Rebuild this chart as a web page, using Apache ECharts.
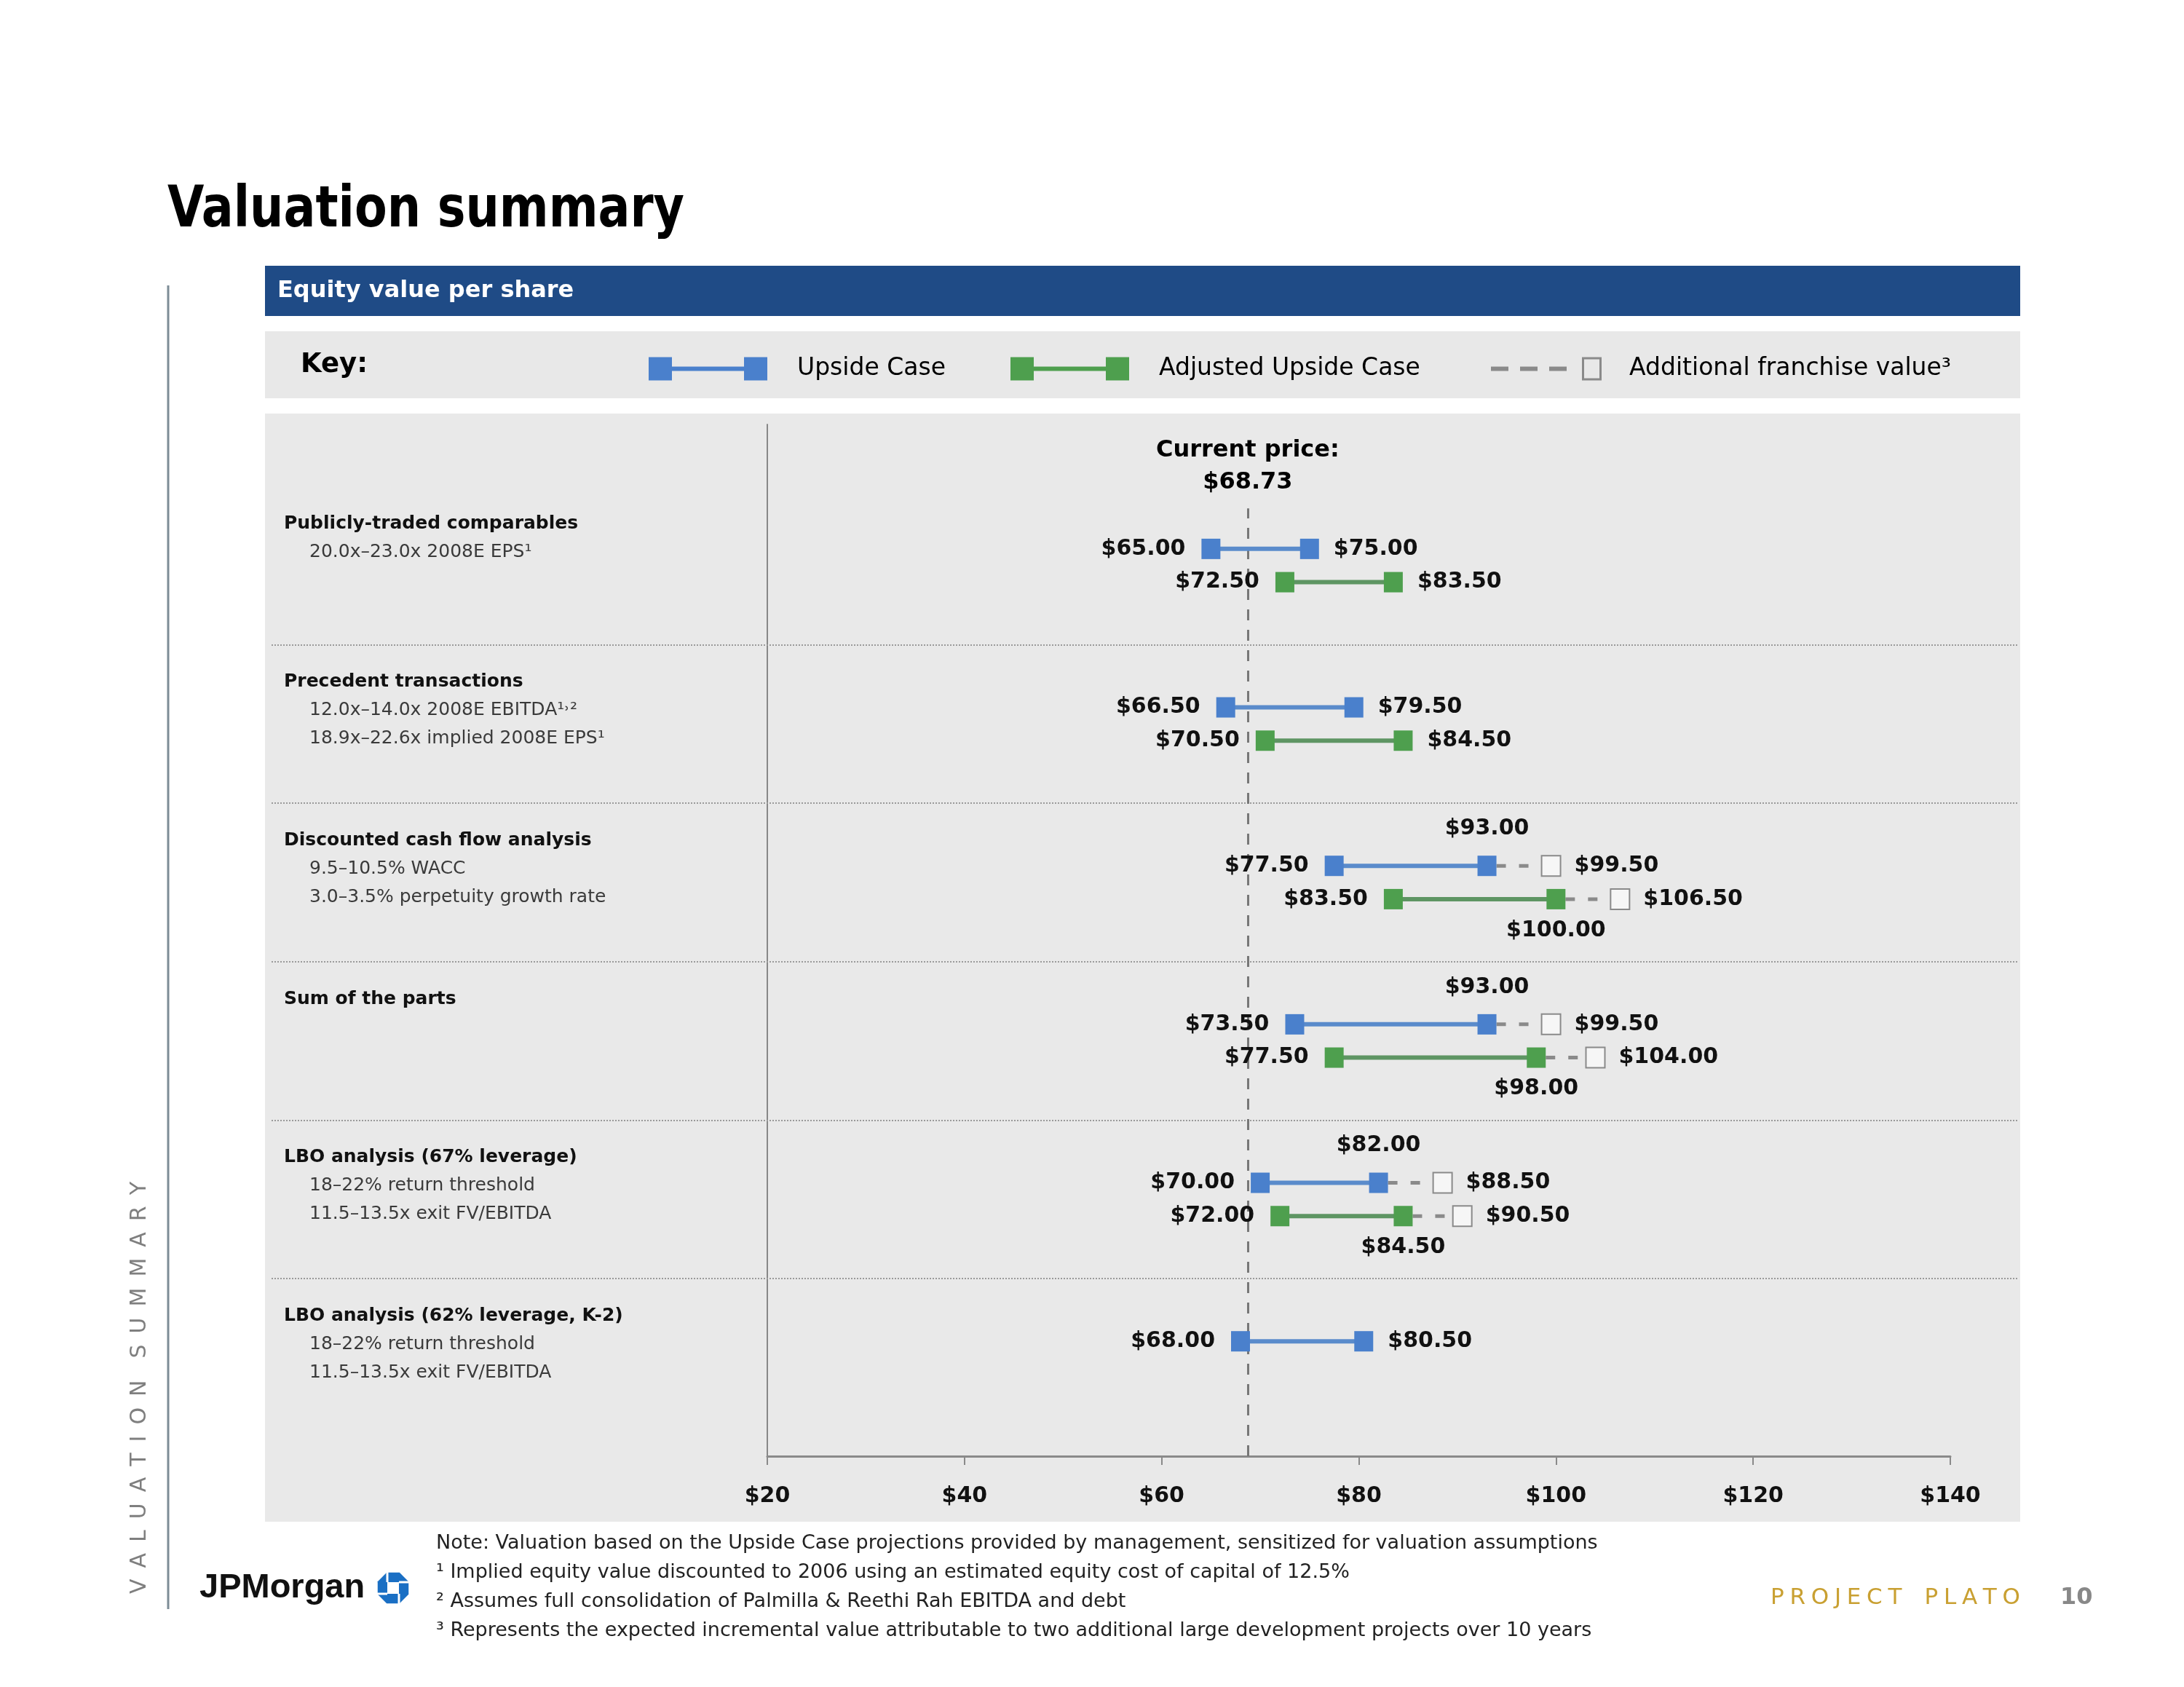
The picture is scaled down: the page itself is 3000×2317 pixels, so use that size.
<!DOCTYPE html>
<html>
<head>
<meta charset="utf-8">
<script src="https://cdn.jsdelivr.net/npm/echarts@6/dist/echarts.min.js"></script>
<style>
html,body{margin:0;padding:0;background:#fff;}
#chart{width:3000px;height:2317px;}
</style>
</head>
<body>
<div id="chart"></div>
<script>
// ---------------- DATA ----------------
const rowTitles = [
  'Publicly-traded comparables',
  'Precedent transactions',
  'Discounted cash flow analysis',
  'Sum of the parts',
  'LBO analysis (67% leverage)',
  'LBO analysis (62% leverage, K-2)'
];
const rowDetails = [
  ['20.0x\u201323.0x 2008E EPS\u00b9'],
  ['12.0x\u201314.0x 2008E EBITDA\u00b9\u02d2\u00b2', '18.9x\u201322.6x implied 2008E EPS\u00b9'],
  ['9.5\u201310.5% WACC', '3.0\u20133.5% perpetuity growth rate'],
  [],
  ['18\u201322% return threshold', '11.5\u201313.5x exit FV/EBITDA'],
  ['18\u201322% return threshold', '11.5\u201313.5x exit FV/EBITDA']
];
const upsideLow      = [65.00, 66.50, 77.50, 73.50, 70.00, 68.00];
const upsideHigh     = [75.00, 79.50, 93.00, 93.00, 82.00, 80.50];
const adjustedLow    = [72.50, 70.50, 83.50, 77.50, 72.00, null];
const adjustedHigh   = [83.50, 84.50, 100.00, 98.00, 84.50, null];
const franchiseUpside   = [null, null, 99.50, 99.50, 88.50, null];
const franchiseAdjusted = [null, null, 106.50, 104.00, 90.50, null];
const currentPrice = 68.73;
const tickValues = [20, 40, 60, 80, 100, 120, 140];
const seriesNames = ['Upside Case', 'Adjusted Upside Case', 'Additional franchise value\u00b3'];
const footNotes = [
  'Note: Valuation based on the Upside Case projections provided by management, sensitized for valuation assumptions',
  '\u00b9 Implied equity value discounted to 2006 using an estimated equity cost of capital of 12.5%',
  '\u00b2 Assumes full consolidation of Palmilla & Reethi Rah EBITDA and debt',
  '\u00b3 Represents the expected incremental value attributable to two additional large development projects over 10 years'
];

// ---------------- STYLE / LAYOUT ----------------
const FONT = '"DejaVu Sans", Verdana, sans-serif';
const BLUE_SQ = '#4a80cc', BLUE_LN = '#5a8bcb';
const GREEN_SQ = '#4e9f4e', GREEN_LN = '#5e9563';
const GREY = '#8a8a8a';
const Y_MIN = -0.89, Y_MAX = 5.62;
const OFF_UP = -0.105, OFF_ADJ = 0.105;
const CP_TOP = -0.36;
const GRID_TOP = 583, GRID_BOTTOM = 2317 - 2000;

const fmt = v => '$' + v.toFixed(2);
const valueText = (x, y, text, align, vAlign) => ({
  type: 'text', x: x, y: y, z2: 20,
  style: { text: text, fill: '#111', fontSize: 30, fontWeight: 'bold', fontFamily: FONT,
           align: align, verticalAlign: vAlign }
});

function caseRenderer(frs, offset, sqColor, lnColor, highPos) {
  return function (params, api) {
    const i = api.value(0);
    const lo = api.value(1), hi = api.value(2);
    const y = i + offset;
    const a = api.coord([lo, y]), b = api.coord([hi, y]);
    const hasFr = frs[i] != null;
    const children = [
      { type: 'line', shape: { x1: a[0], y1: a[1], x2: b[0], y2: b[1] }, style: { stroke: lnColor, lineWidth: 6 } },
      { type: 'rect', shape: { x: a[0] - 13, y: a[1] - 14, width: 26, height: 28 }, style: { fill: sqColor } },
      { type: 'rect', shape: { x: b[0] - 13, y: b[1] - 14, width: 26, height: 28 }, style: { fill: sqColor } },
      valueText(a[0] - 35, a[1], fmt(lo), 'right', 'middle')
    ];
    if (!hasFr) {
      children.push(valueText(b[0] + 33, b[1], fmt(hi), 'left', 'middle'));
    } else if (highPos === 'above') {
      children.push(valueText(b[0], b[1] - 36, fmt(hi), 'center', 'bottom'));
    } else {
      children.push(valueText(b[0], b[1] + 28, fmt(hi), 'center', 'top'));
    }
    return { type: 'group', children: children };
  };
}

function franchiseRenderer(params, api) {
  const i = api.value(0), c = api.value(1), hi = api.value(2), fr = api.value(3);
  const y = i + (c === 0 ? OFF_UP : OFF_ADJ);
  const b = api.coord([hi, y]), f = api.coord([fr, y]);
  return {
    type: 'group',
    children: [
      { type: 'line', shape: { x1: b[0] + 13, y1: b[1], x2: f[0] - 13, y2: f[1] },
        style: { stroke: GREY, lineWidth: 5, lineDash: [13, 18] } },
      { type: 'rect', shape: { x: f[0] - 13, y: f[1] - 14, width: 26, height: 28 },
        style: { fill: '#f6f6f6', stroke: GREY, lineWidth: 2 } },
      valueText(f[0] + 32, f[1], fmt(fr), 'left', 'middle')
    ]
  };
}

function rowLabelRenderer(params, api) {
  const i = api.value(1);
  const p = api.coord([0, i]);
  const children = [{
    type: 'text', x: p[0] + 17, y: p[1] - 70,
    style: { text: rowTitles[i], fill: '#111', fontSize: 25, fontWeight: 'bold', fontFamily: FONT, align: 'left', verticalAlign: 'top' }
  }];
  rowDetails[i].forEach((t, k) => {
    children.push({
      type: 'text', x: p[0] + 52, y: p[1] - 70 + 39 * (k + 1),
      style: { text: t, fill: '#3a3a3a', fontSize: 25, fontFamily: FONT, align: 'left', verticalAlign: 'top' }
    });
  });
  return { type: 'group', children: children };
}

// data built from the arrays
const upsideData = upsideLow.map((v, i) => [i, v, upsideHigh[i]]);
const adjustedData = adjustedLow.map((v, i) => [i, v, adjustedHigh[i]]).filter(d => d[1] != null);
const franchiseData = [];
franchiseUpside.forEach((v, i) => { if (v != null) franchiseData.push([i, 0, upsideHigh[i], v]); });
franchiseAdjusted.forEach((v, i) => { if (v != null) franchiseData.push([i, 1, adjustedHigh[i], v]); });
const rowData = rowTitles.map((t, i) => [0, i]);
const separators = rowTitles.slice(1).map((t, k) => ({ yAxis: k + 0.5 }));

const ICON_CASE = 'path://M0,0h32v32h-32z M32,13h99v6h-99z M131,0h32v32h-32z';
const ICON_FR = 'path://M0,13h24v6h-24z M40,13h24v6h-24z M80,13h24v6h-24z M125,0h27v32h-27z M128,3v26h21v-26z';

const legendBase = {
  top: 485, itemHeight: 32, selectedMode: false,
  textStyle: { fontSize: 33, color: '#000', fontFamily: FONT, padding: [0, 0, 0, 36] }
};

// logo octagon
const oct = [];
for (let k = 0; k < 8; k++) {
  const ang = Math.PI / 8 + k * Math.PI / 4;
  oct.push([540 + 23 * Math.cos(ang), 2181 + 23 * Math.sin(ang)]);
}

const chart = echarts.init(document.getElementById('chart'), null, { renderer: 'canvas' });
chart.setOption({
  animation: false,
  backgroundColor: '#ffffff',
  textStyle: { fontFamily: FONT },
  graphic: [
    { type: 'rect', z: -10, shape: { x: 364, y: 365, width: 2411, height: 69 }, style: { fill: '#1f4b86' } },
    { type: 'rect', z: -10, shape: { x: 364, y: 455, width: 2411, height: 92 }, style: { fill: '#e8e8e8' } },
    { type: 'rect', z: -10, shape: { x: 364, y: 568, width: 2411, height: 1522 }, style: { fill: '#e9e9e9' } },
    { type: 'line', z: 5, shape: { x1: 231, y1: 392, x2: 231, y2: 2210 }, style: { stroke: '#7d8c96', lineWidth: 3 } },
    { type: 'text', z: 10, x: 230, y: 291, scaleX: 0.835,
      style: { text: 'Valuation summary', fill: '#000', font: 'bold 78px ' + FONT, textAlign: 'left', textVerticalAlign: 'middle', align: 'left', verticalAlign: 'middle' } },
    { type: 'text', z: 10, x: 381, y: 400,
      style: { text: 'Equity value per share', fill: '#fff', font: 'bold 32px ' + FONT, textAlign: 'left', textVerticalAlign: 'middle', align: 'left', verticalAlign: 'middle' } },
    { type: 'text', z: 10, x: 413, y: 501,
      style: { text: 'Key:', fill: '#000', font: 'bold 37px ' + FONT, textAlign: 'left', textVerticalAlign: 'middle', align: 'left', verticalAlign: 'middle' } },
    { type: 'text', z: 10, x: 192, y: 1906, rotation: Math.PI / 2,
      style: { text: 'V\u2002A\u2002L\u2002U\u2002A\u2002T\u2002I\u2002O\u2002N\u2002\u2002S\u2002U\u2002M\u2002M\u2002A\u2002R\u2002Y',
               fill: '#7f7f7f', font: '30px ' + FONT, textAlign: 'center', textVerticalAlign: 'middle', align: 'center', verticalAlign: 'middle' } },
    ...footNotes.map((t, k) => ({ type: 'text', z: 10, x: 599, y: 2120 + 40 * k,
      style: { text: t, fill: '#222', font: '27px ' + FONT, textAlign: 'left', textVerticalAlign: 'middle', align: 'left', verticalAlign: 'middle' } })),
    { type: 'text', z: 10, x: 274, y: 2181,
      style: { text: 'JPMorgan', fill: '#111', font: 'bold 47px "Liberation Sans", Arial, sans-serif', textAlign: 'left', textVerticalAlign: 'middle', align: 'left', verticalAlign: 'middle' } },
    { type: 'polygon', z: 10, shape: { points: oct }, style: { fill: '#1a6fc4' } },
    { type: 'rect', z: 11, shape: { x: 532, y: 2173, width: 16, height: 16 }, style: { fill: '#fff' } },
    { type: 'line', z: 11, shape: { x1: 532, y1: 2173, x2: 532, y2: 2156 }, style: { stroke: '#fff', lineWidth: 3 } },
    { type: 'line', z: 11, shape: { x1: 548, y1: 2173, x2: 565, y2: 2173 }, style: { stroke: '#fff', lineWidth: 3 } },
    { type: 'line', z: 11, shape: { x1: 548, y1: 2189, x2: 548, y2: 2206 }, style: { stroke: '#fff', lineWidth: 3 } },
    { type: 'line', z: 11, shape: { x1: 532, y1: 2189, x2: 515, y2: 2189 }, style: { stroke: '#fff', lineWidth: 3 } },
    { type: 'text', z: 10, x: 2432, y: 2195,
      style: { text: 'P\u2005R\u2005O\u2005J\u2005E\u2005C\u2005T\u2002\u2002P\u2005L\u2005A\u2005T\u2005O', fill: '#c9a032', font: '31px ' + FONT, textAlign: 'left', textVerticalAlign: 'middle', align: 'left', verticalAlign: 'middle' } },
    { type: 'text', z: 10, x: 2830, y: 2195,
      style: { text: '10', fill: '#888', font: 'bold 32px ' + FONT, textAlign: 'left', textVerticalAlign: 'middle', align: 'left', verticalAlign: 'middle' } }
  ],
  legend: [
    Object.assign({}, legendBase, { left: 886, itemWidth: 163, data: [{ name: seriesNames[0], icon: ICON_CASE }] }),
    Object.assign({}, legendBase, { left: 1383, itemWidth: 163, data: [{ name: seriesNames[1], icon: ICON_CASE }] }),
    Object.assign({}, legendBase, { left: 2043, itemWidth: 152,
      textStyle: Object.assign({}, legendBase.textStyle, { padding: [0, 0, 0, 33] }),
      data: [{ name: seriesNames[2], icon: ICON_FR }] })
  ],
  grid: [
    { left: 373, right: 228, top: GRID_TOP, bottom: GRID_BOTTOM },
    { left: 1054, right: 321, top: GRID_TOP, bottom: GRID_BOTTOM }
  ],
  xAxis: [
    { gridIndex: 0, type: 'value', min: 0, max: 1, show: false },
    { gridIndex: 1, type: 'value', min: tickValues[0], max: tickValues[tickValues.length - 1],
      interval: tickValues[1] - tickValues[0],
      axisLine: { show: true, onZero: false, lineStyle: { color: GREY, width: 3 } },
      axisTick: { show: true, length: 12, lineStyle: { color: GREY, width: 2 } },
      splitLine: { show: false },
      axisLabel: { margin: 40, formatter: v => '$' + v, color: '#111', fontSize: 30, fontWeight: 'bold', fontFamily: FONT } }
  ],
  yAxis: [
    { gridIndex: 0, type: 'value', min: Y_MIN, max: Y_MAX, inverse: true, show: false },
    { gridIndex: 1, type: 'value', min: Y_MIN, max: Y_MAX, inverse: true,
      axisLine: { show: true, onZero: false, lineStyle: { color: '#888', width: 2 } },
      axisTick: { show: false }, axisLabel: { show: false }, splitLine: { show: false } }
  ],
  series: [
    { type: 'custom', name: 'rows', xAxisIndex: 0, yAxisIndex: 0, data: rowData,
      encode: { x: 0, y: 1 }, renderItem: rowLabelRenderer, silent: true, z: 1,
      markLine: { silent: true, symbol: ['none', 'none'], label: { show: false },
        lineStyle: { type: 'dotted', color: '#9a9a9a', width: 2 }, data: separators } },
    { type: 'custom', name: seriesNames[0], xAxisIndex: 1, yAxisIndex: 1, data: upsideData,
      encode: { x: [1, 2], y: 0 }, itemStyle: { color: BLUE_SQ }, z: 5,
      renderItem: caseRenderer(franchiseUpside, OFF_UP, BLUE_SQ, BLUE_LN, 'above'),
      markLine: { silent: true, symbol: ['none', 'none'],
        lineStyle: { type: [15, 13], color: '#777', width: 3 },
        label: { show: true, position: 'end', distance: 14, formatter: 'Current price:\n' + fmt(currentPrice),
                 color: '#000', fontSize: 32, fontWeight: 'bold', lineHeight: 44, fontFamily: FONT, align: 'center' },
        data: [[{ coord: [currentPrice, Y_MAX] }, { coord: [currentPrice, CP_TOP] }]] } },
    { type: 'custom', name: seriesNames[1], xAxisIndex: 1, yAxisIndex: 1, data: adjustedData,
      encode: { x: [1, 2], y: 0 }, itemStyle: { color: GREEN_SQ }, z: 5,
      renderItem: caseRenderer(franchiseAdjusted, OFF_ADJ, GREEN_SQ, GREEN_LN, 'below') },
    { type: 'custom', name: seriesNames[2], xAxisIndex: 1, yAxisIndex: 1, data: franchiseData,
      encode: { x: [2, 3], y: 0 }, itemStyle: { color: GREY }, z: 4,
      renderItem: franchiseRenderer }
  ]
});
</script>
</body>
</html>
